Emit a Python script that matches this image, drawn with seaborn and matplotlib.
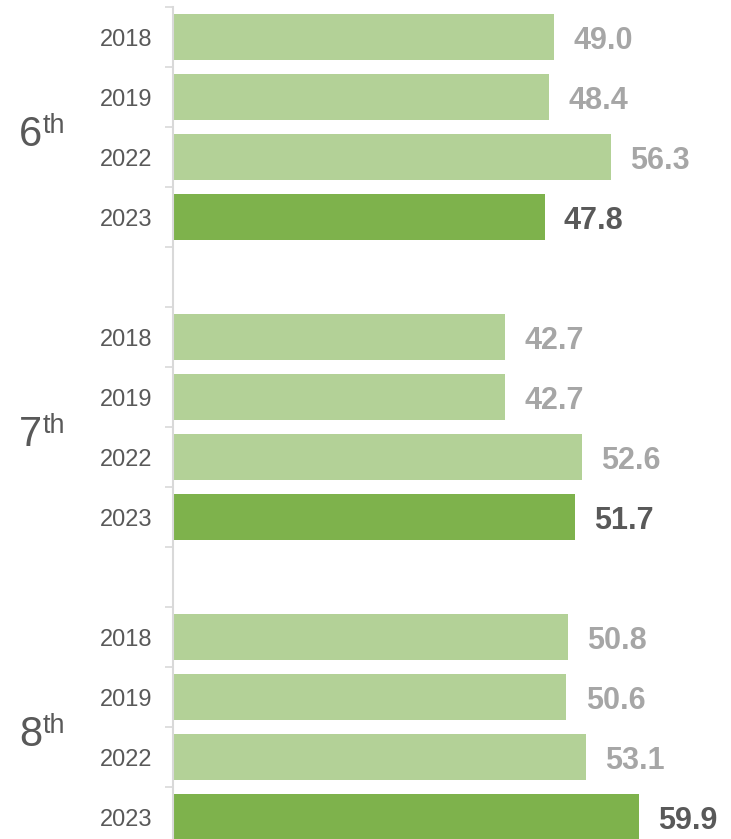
import numpy as np
import pandas as pd
import matplotlib
matplotlib.use("Agg")
import matplotlib.pyplot as plt
import matplotlib.transforms as mtransforms
import seaborn as sns

grades = ["6", "7", "8"]
years = ["2018", "2019", "2022", "2023"]
scores_6th = [49.0, 48.4, 56.3, 47.8]
scores_7th = [42.7, 42.7, 52.6, 51.7]
scores_8th = [50.8, 50.6, 53.1, 59.9]

light_green = "#b3d197"
dark_green = "#7eb24c"
light_text = "#a6a6a6"
dark_text = "#595959"
rule_gray = "#d9d9d9"

# build long table, with an empty slot between grade groups
rows = []
order = []
for g, vals in zip(grades, [scores_6th, scores_7th, scores_8th]):
    for yr, v in zip(years, vals):
        key = g + "|" + yr
        rows.append({"row": key, "grade": g, "year": yr, "score": v,
                     "kind": "current" if yr == "2023" else "past"})
        order.append(key)
    order.append("gap" + g)
order = order[:-1]
df = pd.DataFrame(rows)

sns.set_theme(style="white")
plt.rcParams["font.family"] = ["Liberation Sans", "DejaVu Sans"]

fig = plt.figure(figsize=(7.31, 8.39), dpi=100)
ax = fig.add_axes([172.5 / 731, -8 / 839, 545 / 731, 840 / 839])

sns.barplot(data=df, x="score", y="row", order=order, hue="kind",
            palette={"past": light_green, "current": dark_green},
            width=0.77, orient="h", legend=False, ax=ax, saturation=1,
            linewidth=0)

ax.set_xlim(0, 70)
ax.set_ylim(len(order) - 0.5, -0.5)

# value labels
for _, r in df.iterrows():
    pos = order.index(r["row"])
    cur = r["kind"] == "current"
    ax.annotate(f"{r['score']:.1f}", xy=(r["score"], pos), xytext=(13.8, -8.6),
                textcoords="offset points", va="baseline", ha="left",
                fontsize=22, fontweight="bold",
                color=dark_text if cur else light_text, annotation_clip=False)

# year labels and separator ticks
ax.set_yticks(range(len(order)))
ax.set_yticklabels(["" if k.startswith("gap") else k.split("|")[1] for k in order],
                   fontsize=17, color=dark_text)
ax.tick_params(axis="y", which="major", length=0, pad=14.5)
ax.set_yticks(np.arange(-0.5, len(order), 1), minor=True)
ax.tick_params(axis="y", which="minor", length=5.5, width=1.2, color=rule_gray, left=True)

ax.set_xlabel("")
ax.set_ylabel("")
ax.set_xticks([])
for s in ["top", "right", "bottom"]:
    ax.spines[s].set_visible(False)
ax.spines["left"].set_color(rule_gray)
ax.spines["left"].set_linewidth(1.5)

# grade labels with superscript
trans = mtransforms.blended_transform_factory(fig.transFigure, ax.transData)
for i, g in enumerate(grades):
    center = i * 5 + 1.5
    ax.text(19 / 731, center + 0.317, g, transform=trans, fontsize=30,
            color=dark_text, va="baseline", ha="left")
    ax.text(43 / 731, center + 0.1, "th", transform=trans, fontsize=19.5,
            color=dark_text, va="baseline", ha="left")

fig.savefig("out.png", dpi=100)
